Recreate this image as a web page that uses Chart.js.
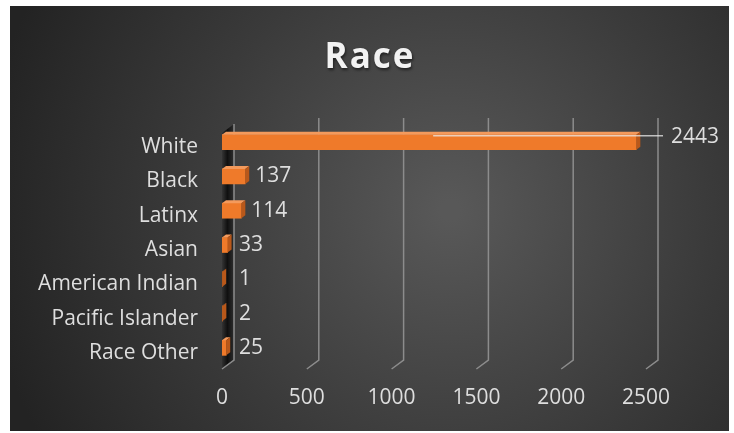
<!DOCTYPE html>
<html>
<head>
<meta charset="utf-8">
<title>Race</title>
<script src="https://cdn.jsdelivr.net/npm/chart.js@4/dist/chart.umd.min.js"></script>
<style>
  html, body { margin:0; padding:0; background:#fff; }
  #wrap { position:relative; width:734px; height:433px; }
  canvas { display:block; }
</style>
</head>
<body>
<div id="wrap"><canvas id="raceChart" width="734" height="433"></canvas></div>
<script>
// race breakdown
const categories = ['White', 'Black', 'Latinx', 'Asian', 'American Indian', 'Pacific Islander', 'Race Other'];
const counts = [2443, 137, 114, 33, 1, 2, 25];
const xTicks = [0, 500, 1000, 1500, 2000, 2500];
const chartTitle = 'Race';

(function(){
  const FONT = "'Open Sans', sans-serif";
  const DX = 4, DY = 3;            // bar depth
  const WALL_DX = 12, WALL_DY = 9; // back wall offset for the grid

  // dark panel with a soft light spot, plus the heading
  const panel = {
    id: 'panel',
    beforeDraw(chart){
      const ctx = chart.ctx;
      ctx.save();
      const g = ctx.createRadialGradient(450, 210, 10, 450, 210, 470);
      g.addColorStop(0, '#585858');
      g.addColorStop(0.55, '#3a3a3a');
      g.addColorStop(1, '#232323');
      ctx.fillStyle = g;
      ctx.fillRect(10, 6, 719, 425);

      ctx.font = 'bold 35px ' + FONT;
      ctx.letterSpacing = '2px';
      ctx.textAlign = 'center';
      ctx.textBaseline = 'alphabetic';
      ctx.shadowColor = 'rgba(0,0,0,0.55)';
      ctx.shadowOffsetX = 1;
      ctx.shadowOffsetY = 2;
      ctx.shadowBlur = 3;
      ctx.fillStyle = '#f2f2f2';
      ctx.fillText(chartTitle, 370, 68);
      ctx.restore();
    }
  };

  // 3d-ish gridlines: vertical on the back wall, bending to the front floor
  const wallGrid = {
    id: 'wallGrid',
    beforeDatasetsDraw(chart){
      const { ctx, chartArea, scales } = chart;
      const xs = scales.x;
      const top = chartArea.top - 7, bend = chartArea.bottom - 5, end = chartArea.bottom + 4;
      ctx.save();
      // shadowed side wall next to the category axis
      const x0 = xs.getPixelForValue(0);
      const sg = ctx.createLinearGradient(x0, 0, x0 + WALL_DX, 0);
      sg.addColorStop(0, 'rgba(0,0,0,0.15)');
      sg.addColorStop(0.45, 'rgba(0,0,0,0.75)');
      sg.addColorStop(1, 'rgba(0,0,0,0.25)');
      ctx.fillStyle = sg;
      ctx.beginPath();
      ctx.moveTo(x0 + WALL_DX, top + 6);
      ctx.lineTo(x0 + WALL_DX, bend);
      ctx.lineTo(x0, end);
      ctx.lineTo(x0, top + 6 + WALL_DY);
      ctx.closePath();
      ctx.fill();

      ctx.strokeStyle = '#8c8c8c';
      ctx.lineWidth = 1.5;
      xTicks.forEach(v => {
        const xf = xs.getPixelForValue(v);
        const xb = xf + WALL_DX;
        ctx.beginPath();
        ctx.moveTo(xb, v === 0 ? top + 6 : top);
        ctx.lineTo(xb, bend);
        ctx.lineTo(xf, end);
        ctx.stroke();
      });
      ctx.restore();
    }
  };

  // top and side faces of the bars, then the value labels
  const barFaces = {
    id: 'barFaces',
    afterDatasetsDraw(chart){
      const ctx = chart.ctx;
      const meta = chart.getDatasetMeta(0);
      const xs = chart.scales.x;
      const lastGrid = xs.getPixelForValue(xTicks[xTicks.length - 1]) + WALL_DX;
      ctx.save();
      meta.data.forEach((bar, i) => {
        const p = bar.getProps(['x', 'y', 'base', 'height'], true);
        const t = p.y - p.height / 2, b = p.y + p.height / 2;
        // top face
        ctx.fillStyle = '#f49a5c';
        ctx.beginPath();
        ctx.moveTo(p.base, t);
        ctx.lineTo(p.x, t);
        ctx.lineTo(p.x + DX, t - DY);
        ctx.lineTo(p.base + DX, t - DY);
        ctx.closePath();
        ctx.fill();
        // side face
        ctx.fillStyle = '#b9581a';
        ctx.beginPath();
        ctx.moveTo(p.x, t);
        ctx.lineTo(p.x + DX, t - DY);
        ctx.lineTo(p.x + DX, b - DY);
        ctx.lineTo(p.x, b);
        ctx.closePath();
        ctx.fill();

        // value label
        ctx.font = '21px ' + FONT;
        ctx.fillStyle = '#dedede';
        ctx.textBaseline = 'middle';
        ctx.textAlign = 'left';
        const txt = String(counts[i]);
        if (p.x + DX + 40 > lastGrid) {
          // long bar: pull the label past the grid with a leader line
          const ly = t + 1;
          ctx.strokeStyle = 'rgba(235,235,235,0.75)';
          ctx.lineWidth = 1.5;
          ctx.beginPath();
          ctx.moveTo((p.base + p.x) / 2 + 4, ly);
          ctx.lineTo(lastGrid + 5, ly);
          ctx.stroke();
          ctx.fillText(txt, lastGrid + 13, ly + 1);
        } else {
          ctx.fillText(txt, Math.max(p.x + DX + 6, p.base + 17), p.y);
        }
      });
      ctx.restore();
    }
  };

  const ctx = document.getElementById('raceChart');
  const grad = ctx.getContext('2d');

  new Chart(ctx, {
    type: 'bar',
    data: {
      labels: categories,
      datasets: [{
        label: chartTitle,
        data: counts,
        backgroundColor: (c) => {
          const el = c.element;
          if (!el || el.height === undefined) return '#ef7a2a';
          const t = el.y - el.height / 2;
          const g = grad.createLinearGradient(0, t, 0, t + el.height);
          g.addColorStop(0, '#f6893a');
          g.addColorStop(1, '#e66e1e');
          return g;
        },
        borderWidth: 0,
        barThickness: 15
      }]
    },
    options: {
      indexAxis: 'y',
      responsive: false,
      animation: false,
      layout: { padding: { top: 125, right: 88, bottom: 0, left: 0 } },
      plugins: {
        legend: { display: false },
        tooltip: { enabled: false },
        title: { display: false }
      },
      scales: {
        x: {
          min: 0,
          max: 2500,
          afterBuildTicks: (s) => { s.ticks = xTicks.map(v => ({ value: v })); },
          afterFit: (s) => { s.height = 68; },
          grid: { display: false, drawTicks: false },
          border: { display: false },
          ticks: { color: '#dedede', font: { family: FONT, size: 21 }, padding: 20, callback: (v) => String(v) }
        },
        y: {
          afterFit: (s) => { s.width = 222; },
          grid: { display: false, drawTicks: false },
          border: { display: false },
          ticks: { color: '#dedede', font: { family: FONT, size: 21 }, padding: 24, labelOffset: 5 }
        }
      }
    },
    plugins: [panel, wallGrid, barFaces]
  });
})();
</script>
</body>
</html>
